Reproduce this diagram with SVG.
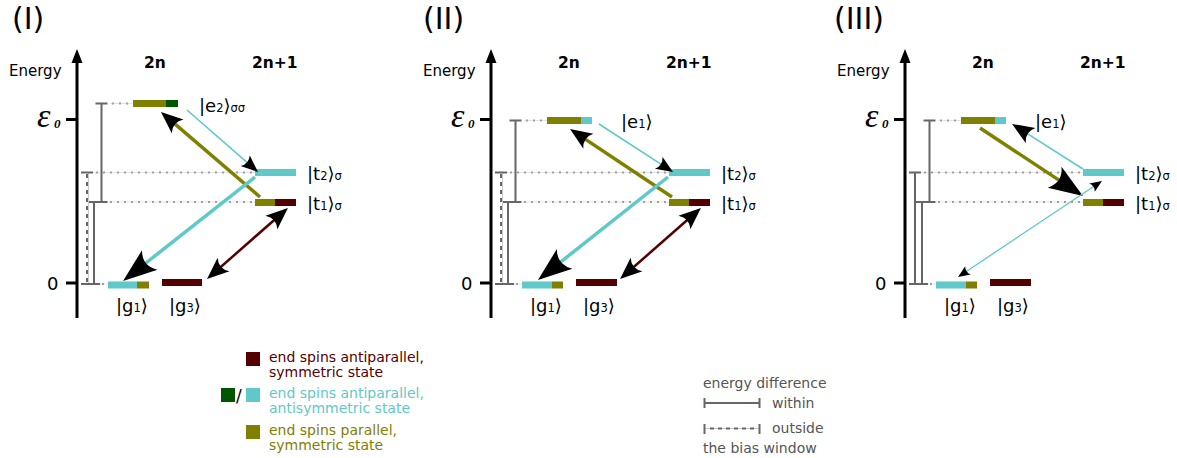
<svg xmlns="http://www.w3.org/2000/svg" width="1177" height="458" viewBox="0 0 1177 458">
<style>
text{font-family:"DejaVu Sans","Liberation Sans",sans-serif;fill:#000}
.ttl{font-size:30px}
.en{font-size:15px}
.hd{font-size:15.5px;font-weight:bold}
.eps{font-family:"Liberation Serif","DejaVu Serif",serif;font-style:italic;font-size:34px}
.epsub{font-family:"Liberation Serif","DejaVu Serif",serif;font-style:italic;font-weight:bold;font-size:13px}
.zero{font-size:18px}
.st{font-size:18px}
.sb{font-size:11.5px}
.axis{stroke:#000;stroke-width:3;fill:none}
.guide{stroke:#e2e2e2;stroke-width:1;fill:none}
.dots{stroke:#a0a0a0;stroke-width:2;stroke-dasharray:2 5;fill:none}
.br{stroke:#666;stroke-width:2;fill:none}
.brd{stroke:#666;stroke-width:2;stroke-dasharray:4 4;fill:none}
.brl{stroke:#c8c8c8;stroke-width:1;fill:none}
.cy{fill:#5fc8c8}.ol{fill:#808000}.mr{fill:#550000}.gr{fill:#005500}
.acy{stroke:#5fc8c8;fill:none}
.aol{stroke:#808000;fill:none}
.amr{stroke:#550000;fill:none}
.lg{font-size:14px}
.lg2{font-size:14px;fill:#555}
</style>
<defs>
<marker id="big" viewBox="-36 -13 38 26" markerWidth="38" markerHeight="26" refX="-17" refY="0" orient="auto-start-reverse" markerUnits="userSpaceOnUse"><path d="M0,0 L-34,-12.5 Q-24,0 -34,12.5 Z" fill="#000"/></marker>
<marker id="med" viewBox="-24 -10 26 20" markerWidth="26" markerHeight="20" refX="-11" refY="0" orient="auto-start-reverse" markerUnits="userSpaceOnUse"><path d="M0,0 L-22,-9 Q-15,0 -22,9 Z" fill="#000"/></marker>
<marker id="thin" viewBox="-19 -8 21 16" markerWidth="21" markerHeight="16" refX="-8.5" refY="0" orient="auto-start-reverse" markerUnits="userSpaceOnUse"><path d="M0,0 L-17,-7 Q-12,0 -17,7 Z" fill="#000"/></marker>
<marker id="sml" viewBox="-14 -6 16 12" markerWidth="16" markerHeight="12" refX="-6" refY="0" orient="auto-start-reverse" markerUnits="userSpaceOnUse"><path d="M0,0 L-12,-5 Q-8.5,0 -12,5 Z" fill="#000"/></marker>
</defs>

<!-- ================= PANEL I ================= -->
<g id="panel1-axis">
<text class="ttl" x="12" y="29">(I)</text>
<line class="axis" x1="77" y1="318" x2="77" y2="58"/>
<path d="M77,49 L71.5,63 L82.5,63 Z" fill="#000"/>
<line class="axis" x1="66" y1="119.5" x2="77" y2="119.5"/>
<line class="axis" x1="66" y1="283" x2="77" y2="283"/>
<text class="en" x="9" y="76">Energy</text>
<text class="hd" x="144" y="68">2n</text>
<text class="hd" x="252" y="68">2n+1</text>
<text class="eps" x="37" y="127">ε</text><text class="epsub" x="54" y="128">0</text>
<text class="zero" x="47" y="290">0</text>
</g>
<g id="panel1-guides">
<line class="guide" x1="110" y1="103.5" x2="133" y2="103.5"/><line class="dots" x1="112" y1="103.5" x2="133" y2="103.5"/>
<line class="guide" x1="93" y1="172.5" x2="255" y2="172.5"/><line class="dots" x1="96" y1="172.5" x2="255" y2="172.5"/>
<line class="guide" x1="108" y1="202" x2="255" y2="202"/><line class="dots" x1="110" y1="202" x2="255" y2="202"/>
<line class="guide" x1="100" y1="284" x2="108" y2="284"/><line class="dots" x1="102" y1="284" x2="108" y2="284"/>
</g>
<g id="panel1-brackets">
<path class="br" d="M95.5,103.5 H107.5 M101.5,103.5 V202 M95.5,202 H107.5"/>
<path class="br" d="M88,202 H100 M94,202 V284 M88,284 H100"/>
<line class="brl" x1="88.5" y1="172.5" x2="88.5" y2="284"/>
<path class="br" d="M81,172.5 H93 M81,284 H93"/>
<line class="brd" x1="87" y1="174" x2="87" y2="284"/>
</g>
<g id="p1-e2"><rect class="ol" x="133" y="100" width="33" height="7"/><rect class="gr" x="166" y="100" width="12" height="7"/><text class="st" x="199" y="112">|e<tspan class="sb">2</tspan>⟩<tspan class="sb">σσ</tspan></text></g>
<g id="p1-t2"><rect class="cy" x="255" y="169" width="41" height="7"/><text class="st" x="307" y="180">|t<tspan class="sb">2</tspan>⟩<tspan class="sb">σ</tspan></text></g>
<g id="p1-t1"><rect class="ol" x="255" y="199" width="20" height="7"/><rect class="mr" x="275" y="199" width="21" height="7"/><text class="st" x="307" y="210">|t<tspan class="sb">1</tspan>⟩<tspan class="sb">σ</tspan></text></g>
<g id="p1-g1"><rect class="cy" x="108" y="281.5" width="29" height="7"/><rect class="ol" x="137" y="281.5" width="12" height="7"/><text class="st" x="116" y="312">|g<tspan class="sb">1</tspan>⟩</text></g>
<g id="p1-g3"><rect class="mr" x="162" y="279" width="40" height="7"/><text class="st" x="169" y="312">|g<tspan class="sb">3</tspan>⟩</text></g>
<g id="p1-connectors">
<line class="aol" stroke-width="3.5" x1="260" y1="197" x2="169.3" y2="119.2" marker-end="url(#med)"/>
<line class="acy" stroke-width="1.6" x1="187" y1="110" x2="251.6" y2="166.4" marker-end="url(#thin)"/>
<line class="acy" stroke-width="3.5" x1="255" y1="177" x2="136.4" y2="270.5" marker-end="url(#big)"/>
<line class="amr" stroke-width="2.5" x1="215.3" y1="271.8" x2="279.7" y2="215.2" marker-start="url(#med)" marker-end="url(#med)"/>
</g>

<!-- ================= PANEL II ================= -->
<g id="panel2-axis">
<text class="ttl" x="423" y="29">(II)</text>
<line class="axis" x1="491" y1="318" x2="491" y2="58"/>
<path d="M491,49 L485.5,63 L496.5,63 Z" fill="#000"/>
<line class="axis" x1="480" y1="119.5" x2="491" y2="119.5"/>
<line class="axis" x1="480" y1="283" x2="491" y2="283"/>
<text class="en" x="423" y="76">Energy</text>
<text class="hd" x="558" y="68">2n</text>
<text class="hd" x="666" y="68">2n+1</text>
<text class="eps" x="451" y="127">ε</text><text class="epsub" x="468" y="128">0</text>
<text class="zero" x="461" y="290">0</text>
</g>
<g id="panel2-guides">
<line class="guide" x1="524" y1="120.5" x2="547" y2="120.5"/><line class="dots" x1="526" y1="120.5" x2="547" y2="120.5"/>
<line class="guide" x1="507" y1="172.5" x2="669" y2="172.5"/><line class="dots" x1="510" y1="172.5" x2="669" y2="172.5"/>
<line class="guide" x1="522" y1="202" x2="669" y2="202"/><line class="dots" x1="524" y1="202" x2="669" y2="202"/>
<line class="guide" x1="514" y1="284" x2="522" y2="284"/><line class="dots" x1="516" y1="284" x2="522" y2="284"/>
</g>
<g id="panel2-brackets">
<path class="br" d="M509.5,120.5 H521.5 M515.5,120.5 V202 M509.5,202 H521.5"/>
<path class="br" d="M502,202 H514 M508,202 V284 M502,284 H514"/>
<line class="brl" x1="502.5" y1="172.5" x2="502.5" y2="284"/>
<path class="br" d="M495,172.5 H507 M495,284 H507"/>
<line class="brd" x1="501" y1="174" x2="501" y2="284"/>
</g>
<g id="p2-e1"><rect class="ol" x="547" y="117" width="34" height="7"/><rect class="cy" x="581" y="117" width="11" height="7"/><text class="st" x="621" y="128">|e<tspan class="sb">1</tspan>⟩</text></g>
<g id="p2-t2"><rect class="cy" x="669" y="169" width="41" height="7"/><text class="st" x="721" y="180">|t<tspan class="sb">2</tspan>⟩<tspan class="sb">σ</tspan></text></g>
<g id="p2-t1"><rect class="ol" x="669" y="199" width="20" height="7"/><rect class="mr" x="689" y="199" width="21" height="7"/><text class="st" x="721" y="210">|t<tspan class="sb">1</tspan>⟩<tspan class="sb">σ</tspan></text></g>
<g id="p2-g1"><rect class="cy" x="522" y="281.5" width="30" height="7"/><rect class="ol" x="552" y="281.5" width="11" height="7"/><text class="st" x="530" y="312">|g<tspan class="sb">1</tspan>⟩</text></g>
<g id="p2-g3"><rect class="mr" x="576" y="279" width="41" height="7"/><text class="st" x="583" y="312">|g<tspan class="sb">3</tspan>⟩</text></g>
<g id="p2-connectors">
<line class="aol" stroke-width="3.5" x1="672" y1="197" x2="579.2" y2="135.1" marker-end="url(#med)"/>
<line class="acy" stroke-width="1.6" x1="599" y1="124" x2="665.9" y2="167.4" marker-end="url(#thin)"/>
<line class="acy" stroke-width="3.5" x1="668" y1="177" x2="551.3" y2="269.4" marker-end="url(#big)"/>
<line class="amr" stroke-width="2.5" x1="628.3" y1="271.8" x2="692.7" y2="215.2" marker-start="url(#med)" marker-end="url(#med)"/>
</g>

<!-- ================= PANEL III ================= -->
<g id="panel3-axis">
<text class="ttl" x="834" y="29">(III)</text>
<line class="axis" x1="905" y1="318" x2="905" y2="58"/>
<path d="M905,49 L899.5,63 L910.5,63 Z" fill="#000"/>
<line class="axis" x1="894" y1="119.5" x2="905" y2="119.5"/>
<line class="axis" x1="894" y1="283" x2="905" y2="283"/>
<text class="en" x="837" y="76">Energy</text>
<text class="hd" x="972" y="68">2n</text>
<text class="hd" x="1080" y="68">2n+1</text>
<text class="eps" x="865" y="127">ε</text><text class="epsub" x="882" y="128">0</text>
<text class="zero" x="875" y="290">0</text>
</g>
<g id="panel3-guides">
<line class="guide" x1="938" y1="120.5" x2="961" y2="120.5"/><line class="dots" x1="940" y1="120.5" x2="961" y2="120.5"/>
<line class="guide" x1="921" y1="172.5" x2="1083" y2="172.5"/><line class="dots" x1="924" y1="172.5" x2="1083" y2="172.5"/>
<line class="guide" x1="936" y1="202" x2="1083" y2="202"/><line class="dots" x1="938" y1="202" x2="1083" y2="202"/>
<line class="guide" x1="928" y1="284" x2="936" y2="284"/><line class="dots" x1="930" y1="284" x2="936" y2="284"/>
</g>
<g id="panel3-brackets">
<path class="br" d="M923.5,120.5 H935.5 M929.5,120.5 V202 M923.5,202 H935.5"/>
<path class="br" d="M916,202 H928 M922,202 V284 M916,284 H928"/>
<path class="br" d="M909,172.5 H921 M915,172.5 V284 M909,284 H921"/>
</g>
<g id="p3-e1"><rect class="ol" x="961" y="117" width="34" height="7"/><rect class="cy" x="995" y="117" width="11" height="7"/><text class="st" x="1035" y="128">|e<tspan class="sb">1</tspan>⟩</text></g>
<g id="p3-t2"><rect class="cy" x="1083" y="169" width="41" height="7"/><text class="st" x="1135" y="180">|t<tspan class="sb">2</tspan>⟩<tspan class="sb">σ</tspan></text></g>
<g id="p3-t1"><rect class="ol" x="1083" y="199" width="20" height="7"/><rect class="mr" x="1103" y="199" width="21" height="7"/><text class="st" x="1135" y="210">|t<tspan class="sb">1</tspan>⟩<tspan class="sb">σ</tspan></text></g>
<g id="p3-g1"><rect class="cy" x="936" y="281.5" width="30" height="7"/><rect class="ol" x="966" y="281.5" width="11" height="7"/><text class="st" x="944" y="312">|g<tspan class="sb">1</tspan>⟩</text></g>
<g id="p3-g3"><rect class="mr" x="990" y="279" width="41" height="7"/><text class="st" x="997" y="312">|g<tspan class="sb">3</tspan>⟩</text></g>
<g id="p3-connectors">
<line class="aol" stroke-width="3.5" x1="980" y1="128" x2="1068.8" y2="186.6" marker-end="url(#big)"/>
<line class="acy" stroke-width="1.6" x1="1083" y1="169" x2="1021.4" y2="129.8" marker-end="url(#med)"/>
<line class="acy" stroke-width="1.3" x1="963" y1="273.7" x2="1097" y2="184.3" marker-start="url(#sml)" marker-end="url(#sml)"/>
</g>

<!-- ================= LEGENDS ================= -->
<g id="legend-colors">
<rect class="mr" x="246" y="352" width="14" height="14"/>
<text class="lg" style="fill:#550000" x="269" y="362">end spins antiparallel,</text>
<text class="lg" style="fill:#550000" x="269" y="377">symmetric state</text>
<rect class="gr" x="221" y="388" width="14" height="14"/>
<text x="236" y="402" style="font-size:17px">/</text>
<rect class="cy" x="246" y="388" width="14" height="14"/>
<text class="lg" style="fill:#5fc8c8" x="269" y="398">end spins antiparallel,</text>
<text class="lg" style="fill:#5fc8c8" x="269" y="413">antisymmetric state</text>
<rect class="ol" x="246" y="425" width="14" height="14"/>
<text class="lg" style="fill:#808000" x="269" y="435">end spins parallel,</text>
<text class="lg" style="fill:#808000" x="269" y="450">symmetric state</text>
</g>
<g id="legend-brackets">
<text class="lg2" x="703" y="388">energy difference</text>
<path class="br" d="M704.5,398 V408 M704.5,403 H759.5 M759.5,398 V408"/>
<text class="lg2" x="772" y="408">within</text>
<line class="brl" x1="704.5" y1="428.5" x2="759.5" y2="428.5"/>
<path class="br" d="M704.5,424 V434 M759.5,424 V434"/>
<line class="brd" x1="710" y1="428.5" x2="757" y2="428.5"/>
<text class="lg2" x="772" y="433">outside</text>
<text class="lg2" x="703" y="453">the bias window</text>
</g>
</svg>
